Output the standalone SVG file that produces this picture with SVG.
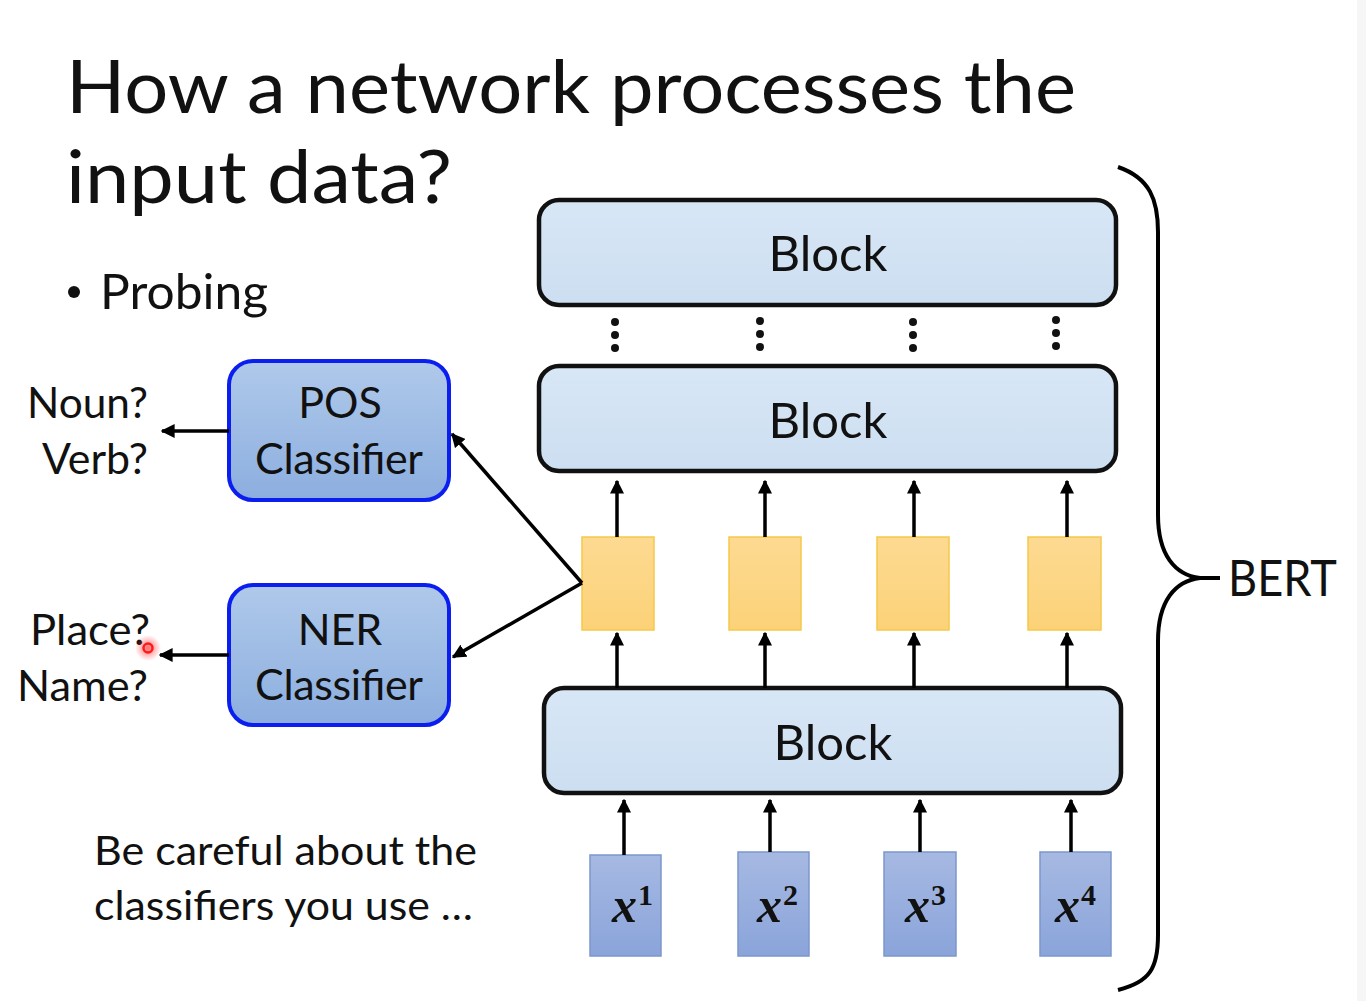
<svg xmlns="http://www.w3.org/2000/svg" width="1366" height="1001" viewBox="0 0 1366 1001">
<style>
.t{font-family:Lato,"Liberation Sans",sans-serif;fill:#111}
.blk{fill:url(#gBlk);stroke:#111;stroke-width:4.5}
.cls{fill:url(#gCls);stroke:#0A1EF0;stroke-width:4}
.yel{fill:url(#gYel);stroke:#F6C84A;stroke-width:1.5}
.inp{fill:url(#gInp);stroke:#7C96CC;stroke-width:1.5}
.ar{stroke:#000;stroke-width:3.5;fill:none;marker-end:url(#ah)}
.xl{font-family:"Liberation Serif","DejaVu Serif",serif;font-style:italic;font-weight:bold;fill:#111}
.sup{font-family:"Liberation Serif","DejaVu Serif",serif;font-weight:bold;fill:#111}
</style>
<defs>
<linearGradient id="gBlk" x1="0" y1="0" x2="0" y2="1"><stop offset="0" stop-color="#D8E7F6"/><stop offset="1" stop-color="#CCDEF1"/></linearGradient>
<linearGradient id="gCls" x1="0" y1="0" x2="0" y2="1"><stop offset="0" stop-color="#AFC9EA"/><stop offset="1" stop-color="#8CAEDF"/></linearGradient>
<linearGradient id="gYel" x1="0" y1="0" x2="0" y2="1"><stop offset="0" stop-color="#FDDA92"/><stop offset="1" stop-color="#FCD278"/></linearGradient>
<linearGradient id="gInp" x1="0" y1="0" x2="0" y2="1"><stop offset="0" stop-color="#A6B9E2"/><stop offset="1" stop-color="#8AA4DA"/></linearGradient>
<radialGradient id="gRed"><stop offset="0" stop-color="#FF3030" stop-opacity="0.7"/><stop offset="1" stop-color="#FF3030" stop-opacity="0"/></radialGradient>
<marker id="ah" viewBox="0 0 10 10" refX="9" refY="5" markerWidth="4" markerHeight="4" orient="auto" markerUnits="strokeWidth"><path d="M0,0 L10,5 L0,10 z" fill="#000"/></marker>
</defs>
<rect x="0" y="0" width="1366" height="1001" fill="#fff"/>
<rect x="1357" y="0" width="9" height="1001" fill="#F6F6F6"/>

<g id="title">
<text class="t" x="66" y="113" font-size="73" textLength="1010" lengthAdjust="spacingAndGlyphs">How a network processes the</text>
<text class="t" x="66" y="203" font-size="73" textLength="386" lengthAdjust="spacingAndGlyphs">input data?</text>
</g>
<g id="bullet">
<circle cx="74" cy="292" r="6" fill="#111"/>
<text class="t" x="100" y="309" font-size="48" textLength="168" lengthAdjust="spacingAndGlyphs">Probing</text>
</g>

<g id="block-top"><rect class="blk" x="539" y="200" width="577" height="105" rx="20"/><text class="t" x="828" y="271" font-size="49" text-anchor="middle">Block</text></g>
<g id="dots" fill="#111">
<circle cx="615" cy="322" r="4"/><circle cx="615" cy="335" r="4"/><circle cx="615" cy="348" r="4"/>
<circle cx="760" cy="321" r="4"/><circle cx="760" cy="334" r="4"/><circle cx="760" cy="347" r="4"/>
<circle cx="913" cy="322" r="4"/><circle cx="913" cy="335" r="4"/><circle cx="913" cy="348" r="4"/>
<circle cx="1056" cy="320" r="4"/><circle cx="1056" cy="333" r="4"/><circle cx="1056" cy="346" r="4"/>
</g>
<g id="block-mid"><rect class="blk" x="539" y="366" width="577" height="105" rx="20"/><text class="t" x="828" y="438" font-size="49" text-anchor="middle">Block</text></g>

<g id="emb1"><rect class="yel" x="582" y="537" width="72" height="93"/></g>
<g id="emb2"><rect class="yel" x="729" y="537" width="72" height="93"/></g>
<g id="emb3"><rect class="yel" x="877" y="537" width="72" height="93"/></g>
<g id="emb4"><rect class="yel" x="1028" y="537" width="73" height="93"/></g>

<g id="block-bot"><rect class="blk" x="544" y="688" width="577" height="105" rx="20"/><text class="t" x="833" y="760" font-size="49" text-anchor="middle">Block</text></g>

<g id="x1"><rect class="inp" x="590" y="855" width="71" height="101"/><text class="xl" x="612" y="922" font-size="50">x</text><text class="sup" x="638" y="905" font-size="30">1</text></g>
<g id="x2"><rect class="inp" x="738" y="852" width="71" height="104"/><text class="xl" x="757" y="922" font-size="50">x</text><text class="sup" x="783" y="905" font-size="30">2</text></g>
<g id="x3"><rect class="inp" x="884" y="852" width="72" height="104"/><text class="xl" x="905" y="922" font-size="50">x</text><text class="sup" x="931" y="905" font-size="30">3</text></g>
<g id="x4"><rect class="inp" x="1040" y="852" width="71" height="104"/><text class="xl" x="1055" y="922" font-size="50">x</text><text class="sup" x="1081" y="905" font-size="30">4</text></g>

<g id="pos"><rect class="cls" x="229" y="361" width="220" height="139" rx="24"/><text class="t" x="340" y="418" font-size="43" text-anchor="middle">POS</text><text class="t" x="339" y="474" font-size="43" text-anchor="middle" textLength="168">Classifier</text></g>
<g id="ner"><rect class="cls" x="229" y="585" width="220" height="140" rx="24"/><text class="t" x="340" y="645" font-size="43" text-anchor="middle">NER</text><text class="t" x="339" y="700" font-size="43" text-anchor="middle" textLength="168">Classifier</text></g>

<g id="outputs">
<text class="t" x="148" y="418" font-size="43" text-anchor="end" textLength="121" lengthAdjust="spacingAndGlyphs">Noun?</text>
<text class="t" x="148" y="474" font-size="43" text-anchor="end" textLength="106" lengthAdjust="spacingAndGlyphs">Verb?</text>
<text class="t" x="150" y="645" font-size="43" text-anchor="end" textLength="120" lengthAdjust="spacingAndGlyphs">Place?</text>
<text class="t" x="148" y="701" font-size="43" text-anchor="end" textLength="131" lengthAdjust="spacingAndGlyphs">Name?</text>
</g>

<g id="note">
<text class="t" x="94" y="865" font-size="41" textLength="383" lengthAdjust="spacingAndGlyphs">Be careful about the</text>
<text class="t" x="94" y="920" font-size="41" textLength="379" lengthAdjust="spacingAndGlyphs">classifiers you use …</text>
</g>

<g id="connectors">
<line class="ar" x1="617" y1="537" x2="617" y2="481"/>
<line class="ar" x1="765" y1="537" x2="765" y2="481"/>
<line class="ar" x1="914" y1="537" x2="914" y2="481"/>
<line class="ar" x1="1067" y1="537" x2="1067" y2="481"/>
<line class="ar" x1="617" y1="688" x2="617" y2="633"/>
<line class="ar" x1="765" y1="688" x2="765" y2="633"/>
<line class="ar" x1="914" y1="688" x2="914" y2="633"/>
<line class="ar" x1="1067" y1="688" x2="1067" y2="633"/>
<line class="ar" x1="624" y1="855" x2="624" y2="800"/>
<line class="ar" x1="770" y1="852" x2="770" y2="800"/>
<line class="ar" x1="920" y1="852" x2="920" y2="800"/>
<line class="ar" x1="1071" y1="852" x2="1071" y2="800"/>
<line class="ar" x1="229" y1="431" x2="162" y2="431"/>
<line class="ar" x1="229" y1="655" x2="160" y2="655"/>
<line class="ar" x1="582" y1="583" x2="452" y2="434"/>
<line class="ar" x1="582" y1="583" x2="453" y2="657"/>
</g>

<g id="bert">
<path d="M1118,167 C1150,178 1158,200 1158,232 L1158,515 C1158,555 1175,575 1200,578 C1175,581 1158,601 1158,641 L1158,935 C1158,968 1150,982 1118,990" fill="none" stroke="#000" stroke-width="4"/>
<line x1="1198" y1="578" x2="1220" y2="578" stroke="#000" stroke-width="4"/>
<text class="t" x="1228" y="596" font-size="51" textLength="109" lengthAdjust="spacingAndGlyphs">BERT</text>
</g>

<g id="cursor">
<circle cx="148" cy="648" r="13" fill="url(#gRed)"/>
<circle cx="148" cy="648" r="4.5" fill="none" stroke="#FF1A1A" stroke-width="2.5"/>
</g>
</svg>
